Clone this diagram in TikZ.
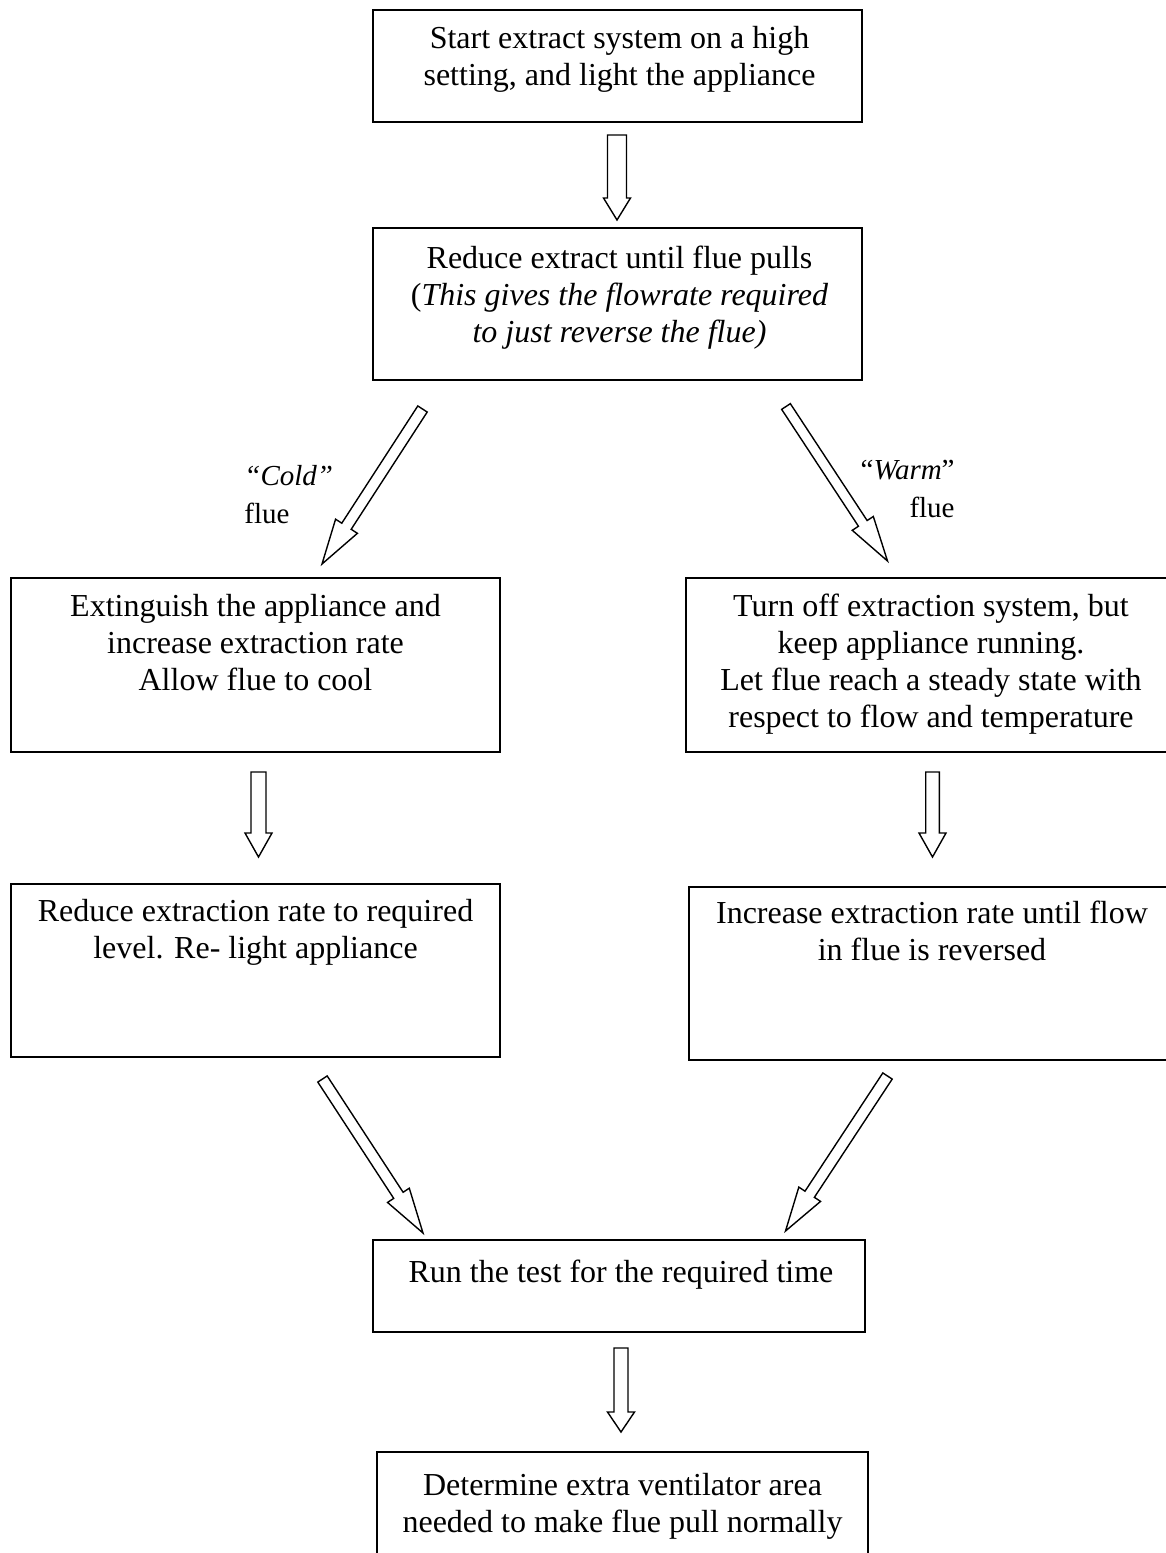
\documentclass[tikz,border=0pt]{standalone}
\usepackage{fontspec}
\setmainfont{Liberation Serif}
\usetikzlibrary{calc}
\newcommand{\blockarrow}[5]{%
  \coordinate (hb) at ($(#2)!#5!(#1)$);
  \draw[arr] ($(#1)!#3!90:(#2)$) -- ($(hb)!#3!90:(#2)$) -- ($(hb)!#4!90:(#2)$) -- (#2)
    -- ($(hb)!#4!-90:(#2)$) -- ($(hb)!#3!-90:(#2)$) -- ($(#1)!#3!-90:(#2)$) -- cycle;
}
\begin{document}
\begin{tikzpicture}[x=0.5pt,y=-0.5pt,
  box/.style={draw, line width=1pt, inner sep=0pt, minimum width=244.5pt},
  txt/.style={font=\fontsize{16pt}{18.5pt}\selectfont, align=center, inner sep=0pt, anchor=base},
  lbl/.style={font=\fontsize{14.5pt}{19pt}\selectfont, inner sep=0pt},
  arr/.style={draw, line width=0.7pt, line join=miter, fill=white}]
\path[use as bounding box, fill=white] (0,0) rectangle (1166,1553);

% boxes
\node[box, minimum height=56pt] (b1) at (617.5,66) {};
\node[box, minimum height=76pt] (b2) at (617.5,304) {};
\node[box, minimum height=87pt] (l1) at (255.5,665) {};
\node[box, minimum height=87pt, minimum width=245pt] (r1) at (931,665) {};
\node[box, minimum height=86.5pt] (l2) at (255.5,970.5) {};
\node[box, minimum height=86.5pt, minimum width=243.5pt] (r2) at (932.5,973.5) {};
\node[box, minimum height=46pt, minimum width=246pt] (run) at (619,1286) {};
\node[box, minimum height=69pt, minimum width=245.5pt] (last) at (622.5,1521) {};

% texts (anchor base = baseline of the last line)
\node[txt] (b1t) at (619.5,85) {Start extract system on a high\\setting, and light the appliance};
\node[txt] (b2t) at (619.5,342) {Reduce extract until flue pulls\\(\textit{This gives the flowrate required}\\\textit{to just reverse the flue)}};
\node[txt] (l1t) at (255.5,690) {Extinguish the appliance and\\increase extraction rate\\Allow flue to cool};
\node[txt] (r1t) at (931,727) {Turn off extraction system, but\\keep appliance running.\\Let flue reach a steady state with\\respect to flow and temperature};
\node[txt] (l2t) at (255.5,958) {Reduce extraction rate to required\\level. Re- light appliance};
\node[txt] (r2t) at (932,960) {Increase extraction rate until flow\\in flue is reversed};
\node[txt] (runt) at (621,1282) {Run the test for the required time};
\node[txt] (lastt) at (622.5,1532) {Determine extra ventilator area\\needed to make flue pull normally};

% labels
\node[lbl, anchor=base west, align=left] (cold) at (244,523) {\textit{“Cold”}\\flue};
\node[lbl, anchor=base east, align=right] (warm) at (955,517) {“\textit{Warm}”\\flue};

% arrow end points
\coordinate (a1s) at (617,135);   \coordinate (a1e) at (617,220);
\coordinate (cs) at (422.5,409);  \coordinate (ce) at (322,564);
\coordinate (ws) at (786,406.5);  \coordinate (we) at (887.5,561);
\coordinate (a2s) at (258.5,772); \coordinate (a2e) at (258.5,857);
\coordinate (a3s) at (932.5,772); \coordinate (a3e) at (932.5,857);
\coordinate (ls) at (322.5,1079); \coordinate (le) at (423,1233);
\coordinate (rs) at (887.5,1076); \coordinate (re) at (785.5,1231);
\coordinate (a4s) at (621,1348);  \coordinate (a4e) at (621,1432);

\blockarrow{a1s}{a1e}{4.75pt}{6.75pt}{11pt}
\blockarrow{cs}{ce}{2.8pt}{6.5pt}{22.5pt}
\blockarrow{ws}{we}{2.6pt}{6.3pt}{22.5pt}
\blockarrow{a2s}{a2e}{3.75pt}{6.75pt}{12pt}
\blockarrow{a3s}{a3e}{3.4pt}{6.75pt}{12pt}
\blockarrow{ls}{le}{2.8pt}{6.5pt}{22.5pt}
\blockarrow{rs}{re}{2.8pt}{6.5pt}{22pt}
\blockarrow{a4s}{a4e}{3.5pt}{6.75pt}{10pt}
\end{tikzpicture}
\end{document}
